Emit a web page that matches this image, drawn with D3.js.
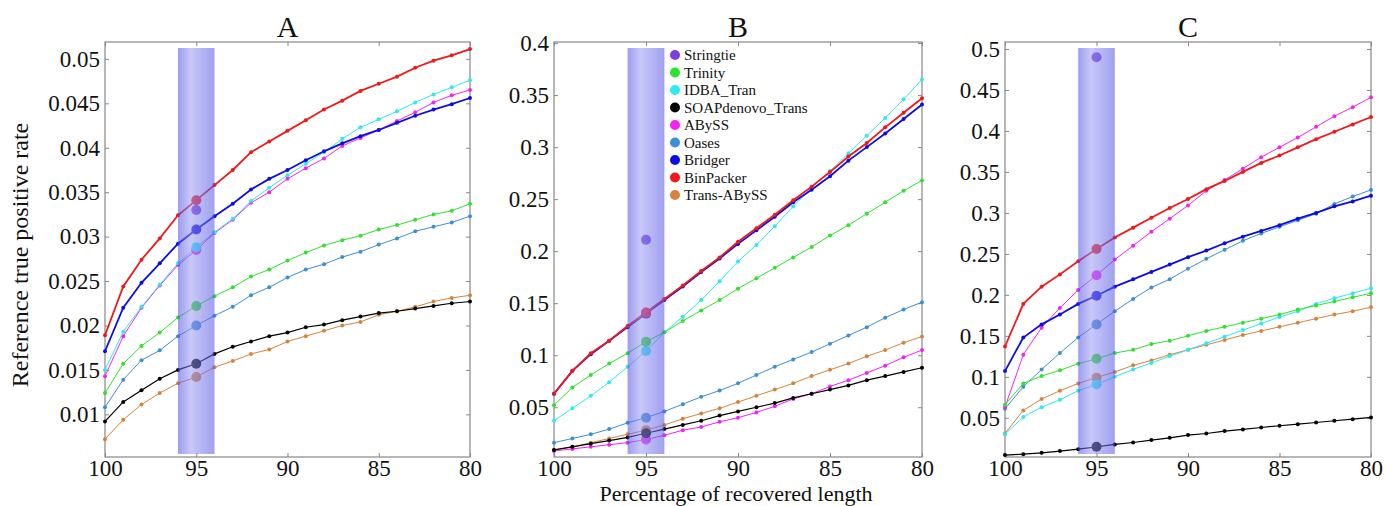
<!DOCTYPE html>
<html>
<head>
<meta charset="utf-8">
<script src="https://cdn.jsdelivr.net/npm/d3@7"></script>
<style>
  body { margin: 0; background: #fff; }
  text { font-family: "Liberation Serif", "DejaVu Serif", serif; fill: #111; }
</style>
</head>
<body>
<svg id="chart" width="1391" height="506"></svg>
<script>
// x values (percentage of recovered length)
var xVals = [100, 99, 98, 97, 96, 95, 94, 93, 92, 91, 90, 89, 88, 87, 86, 85, 84, 83, 82, 81, 80];
var xTicks = [100, 95, 90, 85, 80];

var names = ["Stringtie", "Trinity", "IDBA_Tran", "SOAPdenovo_Trans", "ABySS", "Oases", "Bridger", "BinPacker", "Trans-ABySS"];

// panel A
var aTrinity   = [0.0124, 0.0157, 0.0177, 0.0192, 0.0209, 0.0222, 0.0233, 0.0243, 0.0255, 0.0263, 0.0273, 0.0282, 0.0290, 0.0296, 0.0301, 0.0308, 0.0313, 0.0319, 0.0325, 0.0329, 0.0337];
var aIdba      = [0.0150, 0.0193, 0.0221, 0.0246, 0.0270, 0.0288, 0.0305, 0.0320, 0.0340, 0.0355, 0.0369, 0.0382, 0.0395, 0.0410, 0.0423, 0.0432, 0.0441, 0.0451, 0.0460, 0.0468, 0.0476];
var aSoap      = [0.0092, 0.0114, 0.0127, 0.0140, 0.0150, 0.0157, 0.0168, 0.0176, 0.0182, 0.0188, 0.0192, 0.0198, 0.0201, 0.0206, 0.0210, 0.0214, 0.0216, 0.0219, 0.0222, 0.0225, 0.0227];
var aAbyss     = [0.0143, 0.0188, 0.0220, 0.0245, 0.0268, 0.0285, 0.0304, 0.0319, 0.0338, 0.0350, 0.0365, 0.0377, 0.0388, 0.0402, 0.0411, 0.0420, 0.0430, 0.0440, 0.0451, 0.0459, 0.0465];
var aOases     = [0.0108, 0.0139, 0.0161, 0.0172, 0.0188, 0.0200, 0.0211, 0.0221, 0.0234, 0.0243, 0.0254, 0.0263, 0.0269, 0.0277, 0.0283, 0.0291, 0.0298, 0.0306, 0.0311, 0.0316, 0.0323];
var aBridger   = [0.0171, 0.0220, 0.0248, 0.0270, 0.0292, 0.0308, 0.0323, 0.0337, 0.0353, 0.0365, 0.0375, 0.0386, 0.0396, 0.0405, 0.0413, 0.0420, 0.0428, 0.0436, 0.0443, 0.0449, 0.0456];
var aBinPacker = [0.0189, 0.0244, 0.0274, 0.0298, 0.0324, 0.0341, 0.0358, 0.0375, 0.0395, 0.0407, 0.0419, 0.0431, 0.0443, 0.0453, 0.0464, 0.0472, 0.0480, 0.0490, 0.0498, 0.0504, 0.0511];
var aTrans     = [0.0072, 0.0094, 0.0111, 0.0124, 0.0135, 0.0142, 0.0153, 0.0160, 0.0168, 0.0173, 0.0182, 0.0188, 0.0194, 0.0200, 0.0204, 0.0212, 0.0216, 0.0221, 0.0227, 0.0231, 0.0234];
var aStringtie = 0.0330;

// panel B
var bTrinity   = [0.052, 0.069, 0.081, 0.092, 0.102, 0.113, 0.122, 0.133, 0.143, 0.153, 0.164, 0.174, 0.184, 0.194, 0.204, 0.215, 0.225, 0.236, 0.247, 0.258, 0.268];
var bIdba      = [0.037, 0.049, 0.061, 0.074, 0.089, 0.104, 0.122, 0.137, 0.153, 0.171, 0.190, 0.206, 0.224, 0.243, 0.261, 0.277, 0.294, 0.311, 0.328, 0.346, 0.365];
var bSoap      = [0.009, 0.012, 0.015, 0.018, 0.021, 0.025, 0.029, 0.033, 0.037, 0.042, 0.046, 0.050, 0.054, 0.059, 0.063, 0.067, 0.071, 0.076, 0.080, 0.084, 0.088];
var bAbyss     = [0.008, 0.010, 0.012, 0.014, 0.016, 0.019, 0.023, 0.028, 0.031, 0.036, 0.040, 0.045, 0.051, 0.058, 0.063, 0.070, 0.076, 0.083, 0.090, 0.098, 0.105];
var bOases     = [0.016, 0.020, 0.024, 0.029, 0.035, 0.040, 0.046, 0.053, 0.060, 0.066, 0.073, 0.081, 0.089, 0.096, 0.103, 0.111, 0.119, 0.127, 0.136, 0.144, 0.151];
var bBridger   = [0.063, 0.085, 0.101, 0.114, 0.127, 0.140, 0.153, 0.166, 0.180, 0.193, 0.207, 0.220, 0.233, 0.247, 0.259, 0.272, 0.287, 0.300, 0.313, 0.327, 0.341];
var bBinPacker = [0.063, 0.085, 0.102, 0.114, 0.128, 0.141, 0.154, 0.167, 0.181, 0.194, 0.209, 0.222, 0.235, 0.249, 0.262, 0.276, 0.291, 0.304, 0.319, 0.333, 0.347];
var bTrans     = [0.009, 0.012, 0.016, 0.020, 0.024, 0.028, 0.033, 0.039, 0.044, 0.049, 0.055, 0.061, 0.067, 0.073, 0.080, 0.086, 0.092, 0.099, 0.105, 0.112, 0.118];
var bStringtie = 0.211;

// panel C
var cTrinity   = [0.066, 0.092, 0.101, 0.108, 0.116, 0.122, 0.129, 0.133, 0.140, 0.144, 0.150, 0.156, 0.161, 0.166, 0.171, 0.176, 0.182, 0.187, 0.192, 0.197, 0.202];
var cIdba      = [0.030, 0.051, 0.063, 0.072, 0.083, 0.091, 0.100, 0.109, 0.117, 0.125, 0.133, 0.141, 0.149, 0.157, 0.165, 0.173, 0.180, 0.189, 0.196, 0.202, 0.208];
var cSoap      = [0.0045, 0.0057, 0.0073, 0.0094, 0.0118, 0.0146, 0.0175, 0.0199, 0.0228, 0.0256, 0.0289, 0.0309, 0.0338, 0.0358, 0.0382, 0.0403, 0.0423, 0.0443, 0.0464, 0.0484, 0.0505];
var cAbyss     = [0.063, 0.127, 0.160, 0.184, 0.206, 0.224, 0.243, 0.260, 0.277, 0.293, 0.309, 0.327, 0.340, 0.354, 0.368, 0.380, 0.392, 0.405, 0.418, 0.429, 0.441];
var cOases     = [0.061, 0.088, 0.109, 0.129, 0.148, 0.164, 0.180, 0.195, 0.209, 0.219, 0.232, 0.244, 0.255, 0.266, 0.275, 0.283, 0.291, 0.299, 0.311, 0.320, 0.328];
var cBridger   = [0.107, 0.148, 0.164, 0.176, 0.189, 0.199, 0.210, 0.219, 0.228, 0.237, 0.246, 0.254, 0.263, 0.271, 0.278, 0.285, 0.293, 0.300, 0.308, 0.314, 0.321];
var cBinPacker = [0.137, 0.189, 0.210, 0.225, 0.241, 0.256, 0.270, 0.282, 0.294, 0.306, 0.317, 0.329, 0.339, 0.350, 0.361, 0.370, 0.380, 0.390, 0.399, 0.408, 0.417];
var cTrans     = [0.031, 0.059, 0.073, 0.083, 0.092, 0.099, 0.106, 0.114, 0.120, 0.127, 0.133, 0.139, 0.145, 0.151, 0.156, 0.161, 0.166, 0.171, 0.176, 0.180, 0.185];
var cStringtie = 0.490;

// y tick labels
var aTicks = ["0.01", "0.015", "0.02", "0.025", "0.03", "0.035", "0.04", "0.045", "0.05"];
var bTicks = ["0.05", "0.1", "0.15", "0.2", "0.25", "0.3", "0.35", "0.4"];
var cTicks = ["0.05", "0.1", "0.15", "0.2", "0.25", "0.3", "0.35", "0.4", "0.45", "0.5"];

var color = {
  "Stringtie": "#7a40d8",
  "Trinity": "#2ee22e",
  "IDBA_Tran": "#2ee8f2",
  "SOAPdenovo_Trans": "#000000",
  "ABySS": "#f522f5",
  "Oases": "#3c8fd2",
  "Bridger": "#0c0ce6",
  "BinPacker": "#f01818",
  "Trans-ABySS": "#d4843e"
};
var lineWidth = {"Bridger": 1.8, "BinPacker": 1.8, "SOAPdenovo_Trans": 1.2};

// draw order (last on top)
var drawOrder = ["Trans-ABySS", "Oases", "ABySS", "SOAPdenovo_Trans", "IDBA_Tran", "Trinity", "Bridger", "BinPacker"];

var panels = [
  {title: "A", left: 105, right: 470, domain: [0.0052, 0.0519], ticks: aTicks, stringtie: aStringtie,
   data: {"Trinity": aTrinity, "IDBA_Tran": aIdba, "SOAPdenovo_Trans": aSoap, "ABySS": aAbyss, "Oases": aOases, "Bridger": aBridger, "BinPacker": aBinPacker, "Trans-ABySS": aTrans}},
  {title: "B", left: 554, right: 922, domain: [0.0022, 0.401], ticks: bTicks, stringtie: bStringtie,
   data: {"Trinity": bTrinity, "IDBA_Tran": bIdba, "SOAPdenovo_Trans": bSoap, "ABySS": bAbyss, "Oases": bOases, "Bridger": bBridger, "BinPacker": bBinPacker, "Trans-ABySS": bTrans}},
  {title: "C", left: 1005, right: 1371, domain: [0.0022, 0.5085], ticks: cTicks, stringtie: cStringtie,
   data: {"Trinity": cTrinity, "IDBA_Tran": cIdba, "SOAPdenovo_Trans": cSoap, "ABySS": cAbyss, "Oases": cOases, "Bridger": cBridger, "BinPacker": cBinPacker, "Trans-ABySS": cTrans}}
];

var plotTop = 42, plotBottom = 457;
var svg = d3.select("#chart");

// gradient for the highlighted band around 95
var grad = svg.append("defs").append("linearGradient")
  .attr("id", "band").attr("x1", "0%").attr("x2", "100%").attr("y1", "0%").attr("y2", "0%");
grad.append("stop").attr("offset", "0%").attr("stop-color", "#4b4be4").attr("stop-opacity", 0.55);
grad.append("stop").attr("offset", "35%").attr("stop-color", "#9b9bf2").attr("stop-opacity", 0.55);
grad.append("stop").attr("offset", "100%").attr("stop-color", "#5252e4").attr("stop-opacity", 0.55);

panels.forEach(function(p) {
  var x = d3.scaleLinear().domain([100, 80]).range([p.left, p.right]);
  var y = d3.scaleLinear().domain(p.domain).range([plotBottom, plotTop]);
  var g = svg.append("g");
  var yVals = p.ticks.map(Number);

  // axes with inward ticks
  var leftAx = g.append("g").attr("transform", "translate(" + p.left + ",0)")
    .call(d3.axisLeft(y).tickValues(yVals).tickFormat(function(d, i) { return p.ticks[i]; }).tickSize(-4).tickPadding(5));
  var rightAx = g.append("g").attr("transform", "translate(" + p.right + ",0)")
    .call(d3.axisRight(y).tickValues(yVals).tickFormat("").tickSize(-4));
  var topAx = g.append("g").attr("transform", "translate(0," + plotTop + ")")
    .call(d3.axisTop(x).tickValues(xTicks).tickFormat("").tickSize(-4));
  var bottomAx = g.append("g").attr("transform", "translate(0," + plotBottom + ")")
    .call(d3.axisBottom(x).tickValues(xTicks).tickSize(-4).tickPadding(3));

  [leftAx, rightAx, topAx, bottomAx].forEach(function(ax) {
    ax.select(".domain").remove();
    ax.selectAll(".tick line").attr("stroke", "#888").attr("stroke-width", 1);
    ax.selectAll(".tick text").style("font-size", "23px").attr("fill", "#111")
      .style("font-family", '"Liberation Serif", serif');
  });

  g.append("rect")
    .attr("x", p.left).attr("y", plotTop)
    .attr("width", p.right - p.left).attr("height", plotBottom - plotTop)
    .attr("fill", "none").attr("stroke", "#888").attr("stroke-width", 1.2);

  // title
  g.append("text").attr("x", (p.left + p.right) / 2).attr("y", 37)
    .attr("text-anchor", "middle").style("font-size", "30px").text(p.title);

  var line = d3.line().x(function(d, i) { return x(xVals[i]); }).y(function(d) { return y(d); });

  drawOrder.forEach(function(name) {
    var vals = p.data[name];
    g.append("path").datum(vals)
      .attr("d", line).attr("fill", "none")
      .attr("stroke", color[name]).attr("stroke-width", lineWidth[name] || 1);
    g.selectAll(null).data(vals).enter().append("circle")
      .attr("cx", function(d, i) { return x(xVals[i]); })
      .attr("cy", function(d) { return y(d); })
      .attr("r", 2).attr("fill", color[name]);
  });

  // big markers at 95
  var i95 = xVals.indexOf(95);
  drawOrder.forEach(function(name) {
    g.append("circle").attr("cx", x(95)).attr("cy", y(p.data[name][i95]))
      .attr("r", 5).attr("fill", color[name]);
  });
  g.append("circle").attr("cx", x(95)).attr("cy", y(p.stringtie))
    .attr("r", 5).attr("fill", color["Stringtie"]);

  // translucent band on top
  g.append("rect")
    .attr("x", x(96)).attr("y", plotTop + 6)
    .attr("width", x(94) - x(96)).attr("height", plotBottom - plotTop - 9)
    .attr("fill", "url(#band)");

  // legend in panel B
  if (p.title === "B") {
    var leg = g.append("g");
    names.forEach(function(name, k) {
      var ly = 55 + k * 17.5;
      leg.append("circle").attr("cx", 675).attr("cy", ly).attr("r", 5).attr("fill", color[name]);
      leg.append("text").attr("x", 684).attr("y", ly + 5).style("font-size", "15px").text(name);
    });
  }
});

// axis labels
svg.append("text")
  .attr("transform", "translate(28,255) rotate(-90)")
  .attr("text-anchor", "middle").style("font-size", "24px")
  .text("Reference true positive rate");
svg.append("text")
  .attr("x", 736).attr("y", 501)
  .attr("text-anchor", "middle").style("font-size", "22px")
  .text("Percentage of recovered length");
</script>
</body>
</html>
